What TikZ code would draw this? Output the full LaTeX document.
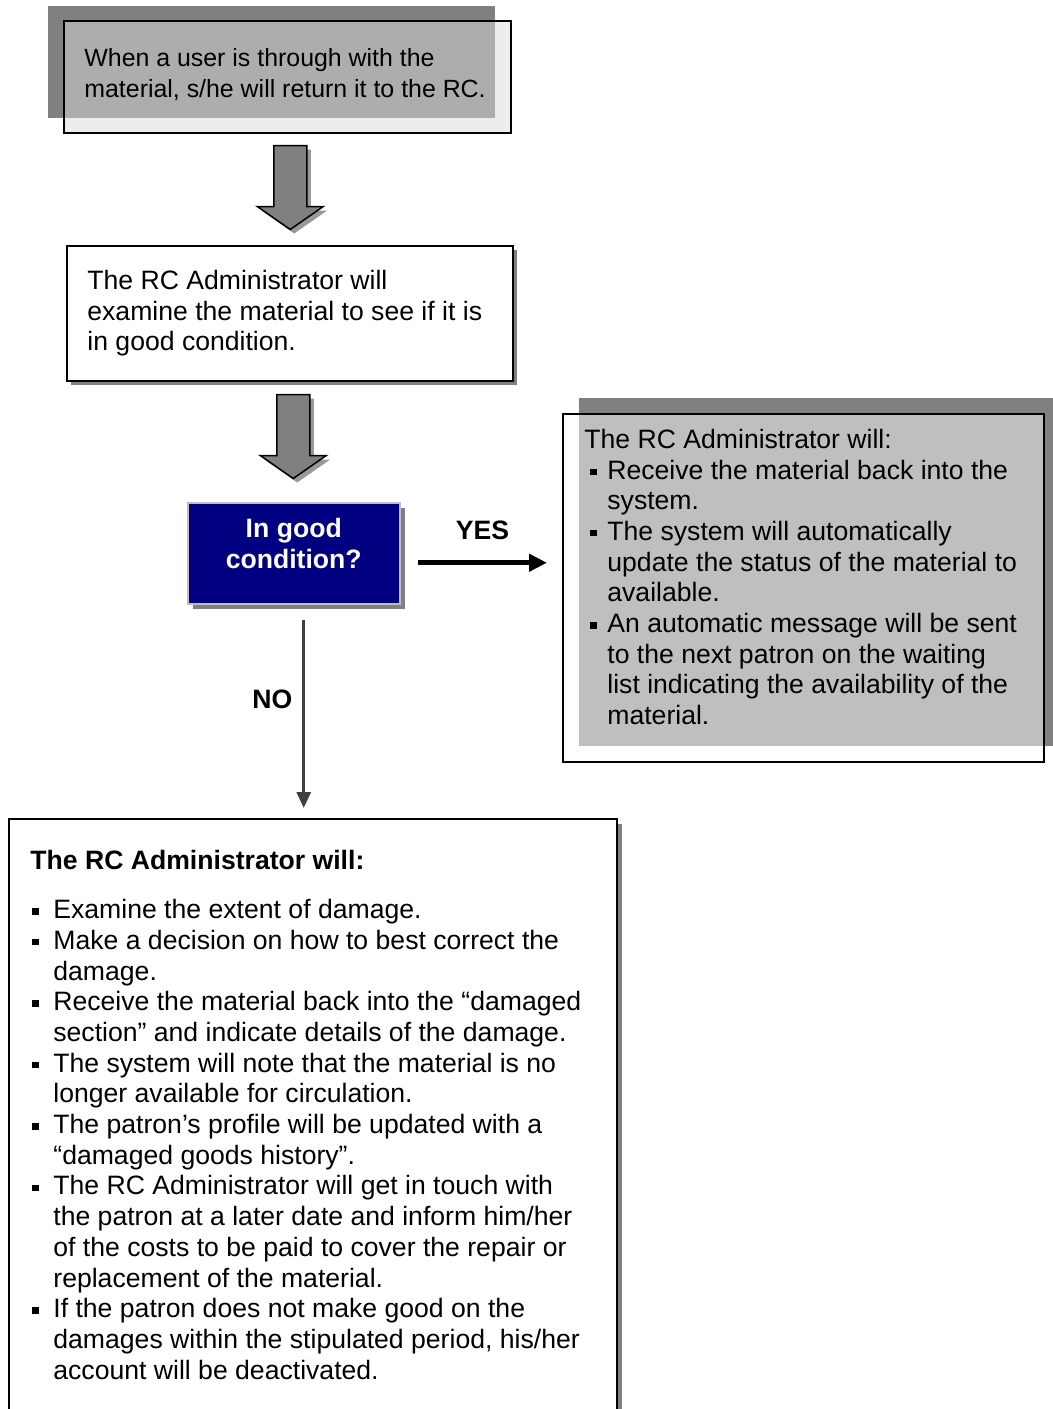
\documentclass[tikz,border=0pt]{standalone}
\usepackage{fontspec}
\setmainfont{Liberation Sans}
\usetikzlibrary{positioning,arrows.meta}

\definecolor{shadowgrey}{gray}{0.5}
\definecolor{navyblue}{RGB}{0,0,128}
\newcommand{\sqb}{\rule[2pt]{3.2pt}{3.2pt}}
\newcommand{\rbul}{\hspace*{3pt}\sqb\hspace*{5.3pt}}
\newcommand{\dbul}{\hspace*{1pt}\sqb\hspace*{7.3pt}}

\tikzset{
  shadowed/.style n args={3}{preaction={fill=#1, draw=none, fill opacity=1, transform canvas={xshift=#2, yshift=#3}}},
  boxframe/.style={draw=black, line width=0.75pt, inner sep=0pt, anchor=north west},
  txt/.style={inner sep=0pt, anchor=north west, align=left},
  boldtxt/.style={font=\fontsize{13.3}{15.35}\selectfont\bfseries},
  fatdown/.pic={
    \path[shadowed={black!40}{2pt}{-2pt}, fill=shadowgrey, draw=black, line width=0.75pt]
      (-16.5,0) -- (16.5,0) -- (16.5,61) -- (33,61) -- (0,84) -- (-33,61) -- (-16.5,61) -- cycle;
  }
}

\begin{document}
\begin{tikzpicture}[x=0.5pt, y=-0.5pt, font=\fontsize{13.3}{15.35}\selectfont]
\clip (0,0) rectangle (1053,1409);

% boxes
\node[boxframe, shadowed={shadowgrey}{-8pt}{7.5pt}, fill=black!14, fill opacity=0.5,
      minimum width=223.5pt, minimum height=56pt] (ret) at (63,20) {};
\node[txt, font=\fontsize{12.45}{15.35}\selectfont, below right=12.25pt and 10.5pt of ret.north west] (rettxt)
  {\begin{tabular}{@{}l@{}}When a user is through with the\\material, s/he will return it to the RC.\end{tabular}};

\node[boxframe, shadowed={shadowgrey}{2pt}{-2pt}, fill=white,
      minimum width=223pt, minimum height=67.5pt] (exam) at (66,245) {};
\node[txt, below right=11.25pt and 10.5pt of exam.north west] (examtxt)
  {\begin{tabular}{@{}l@{}}The RC Administrator will\\examine the material to see if it is\\in good condition.\end{tabular}};

\node[boxframe, draw=black!25, shadowed={black!50}{2.5pt}{-2.5pt}, fill=navyblue,
      minimum width=106pt, minimum height=50.5pt] (cond) at (187,502) {};
\node[txt, boldtxt, text=white, below=6.75pt of cond.north] (condtxt)
  {\begin{tabular}{@{}c@{}}In good\\condition?\end{tabular}};

\node[boxframe, shadowed={shadowgrey}{8pt}{8pt}, fill=white, fill opacity=0.5,
      minimum width=240.5pt, minimum height=174pt] (avail) at (562,413) {};
\node[txt, below right=6.75pt and 11pt of avail.north west] (availtxt)
  {\begin{tabular}{@{}l@{}l@{}}
   \multicolumn{2}{@{}l@{}}{The RC Administrator will:}\\
   \rbul & Receive the material back into the\\
         & system.\\
   \rbul & The system will automatically\\
         & update the status of the material to\\
         & available.\\
   \rbul & An automatic message will be sent\\
         & to the next patron on the waiting\\
         & list indicating the availability of the\\
         & material.
   \end{tabular}};

\node[boxframe, shadowed={shadowgrey}{2.75pt}{-2.75pt}, fill=white,
      minimum width=304pt, minimum height=320pt] (damage) at (8,818) {};
\node[txt, below right=15pt and 11pt of damage.north west] (damagetxt)
  {\begin{tabular}{@{}l@{}l@{}}
   \multicolumn{2}{@{}l@{}}{\bfseries The RC Administrator will:}\\[9pt]
   \dbul & Examine the extent of damage.\\
   \dbul & Make a decision on how to best correct the\\
         & damage.\\
   \dbul & Receive the material back into the “damaged\\
         & section” and indicate details of the damage.\\
   \dbul & The system will note that the material is no\\
         & longer available for circulation.\\
   \dbul & The patron’s profile will be updated with a\\
         & “damaged goods history”.\\
   \dbul & The RC Administrator will get in touch with\\
         & the patron at a later date and inform him/her\\
         & of the costs to be paid to cover the repair or\\
         & replacement of the material.\\
   \dbul & If the patron does not make good on the\\
         & damages within the stipulated period, his/her\\
         & account will be deactivated.
   \end{tabular}};

% block arrows
\coordinate[below=6pt of ret, xshift=1.5pt] (a1);
\pic at (a1) {fatdown};
\coordinate[below=6.5pt of exam, xshift=1.75pt] (a2);
\pic at (a2) {fatdown};

% yes / no
\coordinate[right=8.5pt of cond, yshift=-4.75pt] (y0);
\draw[-{Triangle[length=9pt,width=8.5pt]}, line width=2.5pt, shorten >=7.5pt]
  (y0) -- (y0 -| avail.west) node[pos=0.45, above=10pt, boldtxt, inner sep=0pt] {YES};
\coordinate[below=7.5pt of cond, xshift=5pt] (n0);
\draw[-{Triangle[length=8pt,width=7pt]}, draw=black!75, line width=1.5pt, shorten >=5pt]
  (n0) -- (n0 |- damage.north) node[pos=0.4, left=5pt, boldtxt, inner sep=0pt] {NO};
\end{tikzpicture}
\end{document}
